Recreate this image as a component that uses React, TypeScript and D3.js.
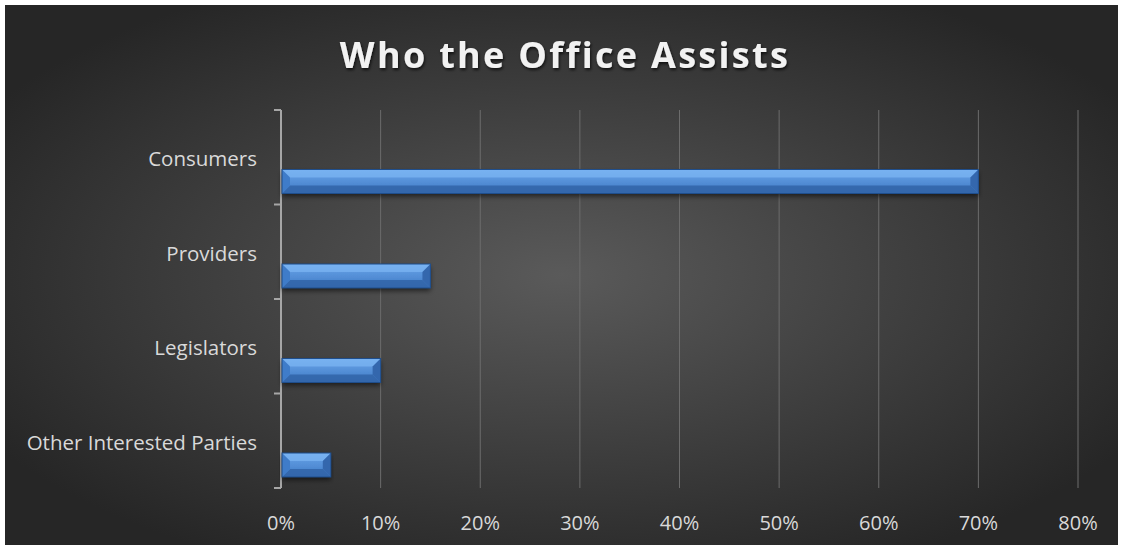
import React from "react";
import * as d3 from "d3";

const categories = ["Consumers", "Providers", "Legislators", "Other Interested Parties"];
const values = [0.70, 0.15, 0.10, 0.05];
const xTicks = [0, 0.1, 0.2, 0.3, 0.4, 0.5, 0.6, 0.7, 0.8];
const title = "Who the Office Assists";

const W = 1122, H = 547;
const frame = { x: 5, y: 5, w: 1113, h: 540 };
const plot = { left: 281, right: 1078, top: 110, bottom: 488 };

export default function App() {
  const x = d3.scaleLinear().domain([0, 0.8]).range([plot.left, plot.right]);
  const y = d3.scaleBand().domain(categories).range([plot.top, plot.bottom]);
  const bw = y.bandwidth();
  const barH = 24;
  const bev = 8;
  const fmt = d3.format(".0%");
  const font = "'Open Sans', 'Liberation Sans', sans-serif";

  return (
    <div style={{ position: "absolute", left: 0, top: 0, width: W, height: H, background: "#fff" }}>
      <svg width={W} height={H} style={{ display: "block" }}>
        <defs>
          <radialGradient id="bg" cx="50%" cy="50%" r="60%" gradientUnits="objectBoundingBox">
            <stop offset="0%" stopColor="#5a5a5a" />
            <stop offset="100%" stopColor="#262626" />
          </radialGradient>
          <linearGradient id="barMain" x1="0" y1="0" x2="0" y2="1">
            <stop offset="0%" stopColor="#6aa6ea" />
            <stop offset="100%" stopColor="#3f79c4" />
          </linearGradient>
          <filter id="shadow" x="-5%" y="-50%" width="110%" height="200%">
            <feDropShadow dx="0" dy="3" stdDeviation="2.5" floodColor="#000" floodOpacity="0.55" />
          </filter>
          <filter id="tshadow" x="-5%" y="-20%" width="110%" height="150%">
            <feDropShadow dx="1" dy="2" stdDeviation="1.5" floodColor="#000" floodOpacity="0.7" />
          </filter>
        </defs>
        <rect x={frame.x} y={frame.y} width={frame.w} height={frame.h} fill="url(#bg)" />
        <text x={565} y={68} textAnchor="middle" fill="#f2f2f2" fontFamily={font}
          fontWeight="bold" fontSize={36} letterSpacing={2.3} filter="url(#tshadow)">{title}</text>
        {xTicks.slice(1).map(t => (
          <line key={t} x1={x(t)} x2={x(t)} y1={plot.top} y2={plot.bottom} stroke="#6c6c6c" strokeWidth={1} />
        ))}
        {xTicks.map(t => (
          <text key={"l" + t} x={x(t)} y={530} textAnchor="middle" fill="#d9d9d9" fontFamily={font} fontSize={20}>{fmt(t)}</text>
        ))}
        <line x1={plot.left} x2={plot.left} y1={plot.top} y2={plot.bottom} stroke="#a6a6a6" strokeWidth={2} />
        {d3.range(categories.length + 1).map(i => {
          const yy = plot.top + i * bw;
          return <line key={"t" + i} x1={plot.left - 7} x2={plot.left} y1={yy} y2={yy} stroke="#a6a6a6" strokeWidth={2} />;
        })}
        {categories.map(c => (
          <text key={"c" + c} x={257} y={(y(c) as number) + bw / 2 + 9} textAnchor="end" fill="#d9d9d9" fontFamily={font} fontSize={20.5}>{c}</text>
        ))}
        {categories.map((c, i) => {
          const x0 = x(0) + 1;
          const x1 = x(values[i]);
          const y1 = (y(c) as number) + bw - 11;
          const y0 = y1 - barH;
          return (
            <g key={"b" + c}>
              <rect x={x0} y={y0} width={x1 - x0} height={barH} fill="url(#barMain)" filter="url(#shadow)" />
              <polygon points={`${x0},${y0} ${x1},${y0} ${x1 - bev},${y0 + bev} ${x0 + bev},${y0 + bev}`} fill="#7db6f3" opacity={0.7} />
              <polygon points={`${x0},${y1} ${x1},${y1} ${x1 - bev},${y1 - bev} ${x0 + bev},${y1 - bev}`} fill="#2f62a5" opacity={0.8} />
              <polygon points={`${x0},${y0} ${x0 + bev},${y0 + bev} ${x0 + bev},${y1 - bev} ${x0},${y1}`} fill="#3f7cc9" />
              <polygon points={`${x1},${y0} ${x1 - bev},${y0 + bev} ${x1 - bev},${y1 - bev} ${x1},${y1}`} fill="#3467ad" />
              <rect x={x0} y={y0} width={x1 - x0} height={barH} fill="none" stroke="#1f4e8c" strokeWidth={1} />
            </g>
          );
        })}
      </svg>
    </div>
  );
}
